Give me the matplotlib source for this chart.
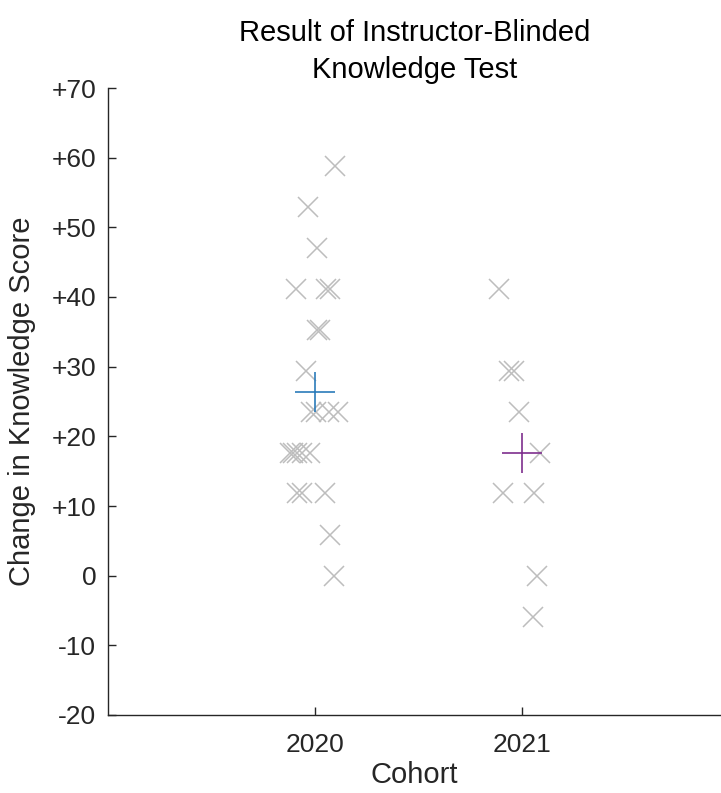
import numpy as np
import matplotlib
matplotlib.use("Agg")
import matplotlib.pyplot as plt

plt.rcParams['font.family'] = ['Liberation Sans', 'DejaVu Sans']

# Change in knowledge score per participant (jittered cohort position, score)
x_2020 = [2020.097, 2019.968, 2020.008, 2019.910, 2020.053, 2020.072,
          2020.010, 2020.025, 2019.957, 2019.980, 2020.002, 2020.065,
          2020.113, 2019.880, 2019.895, 2019.912, 2019.935, 2019.975,
          2019.912, 2019.937, 2020.048, 2020.070, 2020.089]
y_2020 = [58.8, 52.9, 47.1, 41.2, 41.2, 41.2,
          35.3, 35.3, 29.4, 23.5, 23.5, 23.5,
          23.5, 17.6, 17.6, 17.6, 17.6, 17.6,
          11.8, 11.8, 11.8, 5.9, 0.0]

x_2021 = [2020.887, 2020.935, 2020.961, 2020.986, 2021.087,
          2020.908, 2021.058, 2021.070, 2021.050]
y_2021 = [41.2, 29.4, 29.4, 23.5, 17.6,
          11.8, 11.8, 0.0, -5.9]

cohorts = [2020, 2021]
mean_colors = ['#2b7bba', '#7e2f8e']
ytick_vals = [70, 60, 50, 40, 30, 20, 10, 0, -10, -20]
ytick_labels = ['+70', '+60', '+50', '+40', '+30', '+20', '+10', '0', '-10', '-20']

fig = plt.figure(figsize=(7.21, 7.93), dpi=100)
ax = fig.add_axes([108/721, 78/793, 613/721, 627/793])

ax.plot(x_2020, y_2020, 'x', color='#bdbdbd', markersize=14, mew=1.1, ls='none')
ax.plot(x_2021, y_2021, 'x', color='#bdbdbd', markersize=14, mew=1.1, ls='none')

for c, ys, col in zip(cohorts, [y_2020, y_2021], mean_colors):
    ax.plot([c], [np.mean(ys)], '+', color=col, markersize=29, mew=1.2)

ax.set_xlim(2019, 2021.96)
ax.set_ylim(-20, 70)
ax.set_xticks(cohorts)
ax.set_xticklabels([str(c) for c in cohorts])
ax.set_yticks(ytick_vals)
ax.set_yticklabels(ytick_labels)
ax.tick_params(direction='in', length=6, width=1, labelsize=19, colors='#262626')
ax.tick_params(axis='x', pad=13)
ax.tick_params(axis='y', pad=8.5)
ax.spines['top'].set_visible(False)
ax.spines['right'].set_visible(False)
for s in ['left', 'bottom']:
    ax.spines[s].set_color('#262626')
    ax.spines[s].set_linewidth(1)

ax.set_xlabel('Cohort', fontsize=21, color='#262626', labelpad=3)
ax.set_ylabel('Change in Knowledge Score', fontsize=21, color='#262626', labelpad=11)
ax.set_title('Result of Instructor-Blinded\nKnowledge Test', fontsize=21, pad=7,
             linespacing=1.4)

fig.savefig('out.png', dpi=100)
